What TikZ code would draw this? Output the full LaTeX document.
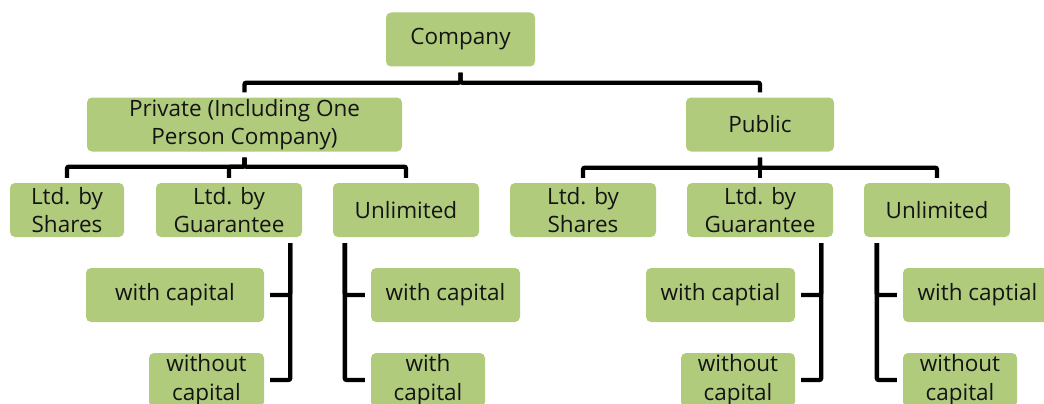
\documentclass[tikz,border=0pt]{standalone}
\usepackage{fontspec}
\setmainfont{Open Sans}
\definecolor{boxgreen}{RGB}{177,203,125}
\definecolor{txt}{RGB}{20,20,20}
\begin{document}
\begin{tikzpicture}[x=1pt,y=-1pt,
  box/.style={draw=none,fill=boxgreen,rounded corners=5pt,inner sep=0pt,
    minimum height=54pt,align=center,text=txt,
    font=\fontsize{22.5}{28.5}\selectfont},
  conn/.style={draw=black,line width=4.4pt,rounded corners=2pt},
  tree/.style={conn,shorten <=6pt,shorten >=5pt},
  side/.style={conn,shorten <=6pt,shorten >=6pt}]
\useasboundingbox (0,0) rectangle (1044,404);
\clip (0,0) rectangle (1044,404);
% level 0
\node[box,minimum width=149pt] (company) at (460.5,39.5) {Company};
% level 1
\node[box,minimum width=315pt] (private) at (244.5,124.5) {Private (Including One\\Person Company)};
\node[box,minimum width=148pt] (public) at (760,124.5) {Public};
% level 2
\node[box,minimum width=114pt] (pvShares) at (67,210) {Ltd. by\\Shares};
\node[box,minimum width=146pt] (pvGuar) at (229,210) {Ltd. by\\Guarantee};
\node[box,minimum width=146pt] (pvUnl) at (406,210) {Unlimited};
\node[box,minimum width=146pt] (puShares) at (583,210) {Ltd. by\\Shares};
\node[box,minimum width=146pt] (puGuar) at (760,210) {Ltd. by\\Guarantee};
\node[box,minimum width=146pt] (puUnl) at (937,210) {Unlimited};
% level 3
\node[box,minimum width=178pt] (pvGa) at (175,295) {with capital};
\node[box,minimum width=115pt] (pvGb) at (206.5,380) {without\\capital};
\node[box,minimum width=149pt] (pvUa) at (445.5,295) {with capital};
\node[box,minimum width=114pt] (pvUb) at (428,380) {with\\capital};
\node[box,minimum width=149pt] (puGa) at (720.5,295) {with captial};
\node[box,minimum width=114pt] (puGb) at (738,380) {without\\capital};
\node[box,minimum width=149pt] (puUa) at (977.5,295) {with captial};
\node[box,minimum width=114pt] (puUb) at (960,380) {without\\capital};
% connectors level 0-1
\draw[tree] (company.south) -- ++(0,16) -| (private.north);
\draw[tree] (company.south) -- ++(0,16) -| (public.north);
% connectors level 1-2
\foreach \c in {pvShares,pvGuar,pvUnl}
  \draw[tree] (private.south) -- ++(0,15) -| (\c.north);
\foreach \c in {puShares,puGuar,puUnl}
  \draw[tree] (public.south) -- ++(0,16) -| (\c.north);
% connectors level 2-3
\draw[side] ([xshift=-12pt]pvGuar.south east) |- (pvGa.east);
\draw[side] ([xshift=-12pt]pvGuar.south east) |- (pvGb.east);
\draw[side] ([xshift=12pt]pvUnl.south west) |- (pvUa.west);
\draw[side] ([xshift=12pt]pvUnl.south west) |- (pvUb.west);
\draw[side] ([xshift=-12pt]puGuar.south east) |- (puGa.east);
\draw[side] ([xshift=-12pt]puGuar.south east) |- (puGb.east);
\draw[side] ([xshift=13pt]puUnl.south west) |- (puUa.west);
\draw[side] ([xshift=13pt]puUnl.south west) |- (puUb.west);
\end{tikzpicture}
\end{document}
